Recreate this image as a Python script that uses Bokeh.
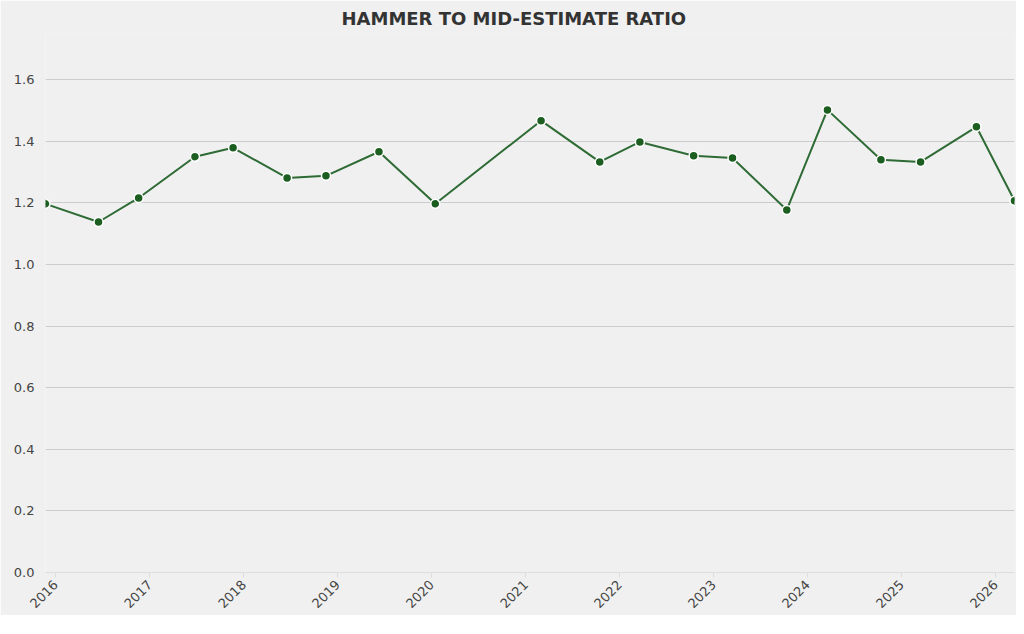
import pandas as pd
from bokeh.plotting import figure
from bokeh.models import Range1d, DatetimeTickFormatter, YearsTicker, PrintfTickFormatter
from bokeh.embed import file_html
from bokeh.resources import INLINE

# sale dates and hammer / mid-estimate ratio
dates = ["2015-11-22", "2016-06-15", "2016-11-18", "2017-06-25", "2017-11-20",
         "2018-06-18", "2018-11-16", "2019-06-10", "2020-01-15", "2021-03-01",
         "2021-10-15", "2022-03-20", "2022-10-15", "2023-03-15", "2023-10-12",
         "2024-03-18", "2024-10-12", "2025-03-15", "2025-10-18", "2026-03-15"]
ratios = [1.197, 1.138, 1.216, 1.350, 1.379, 1.281, 1.288, 1.366, 1.197, 1.467,
          1.333, 1.398, 1.353, 1.346, 1.177, 1.502, 1.340, 1.333, 1.447, 1.207]

x = pd.to_datetime(dates)

p = figure(width=1016, height=615, x_axis_type="datetime",
           output_backend="svg", toolbar_location=None,
           title="HAMMER TO MID-ESTIMATE RATIO",
           x_range=Range1d(x[0], x[-1]), y_range=Range1d(0, 1.75),
           background_fill_color="#f0f0f0", border_fill_color="#f0f0f0",
           min_border_right=2, min_border_left=45, min_border_top=0,
           outline_line_color=None)

p.title.align = "left"
p.title.offset = 296
p.title.text_font = "DejaVu Sans"
p.title.text_font_size = "18px"
p.title.text_color = "#333333"
p.title.text_font_style = "bold"
p.title.standoff = 10

p.line(x, ratios, line_color="#2e6b35", line_width=2)
p.scatter(x, ratios, size=9, fill_color="#1b5e20", line_color="white", line_width=1.5)

p.xgrid.grid_line_color = None
p.ygrid.grid_line_color = "#cccccc"
p.yaxis.ticker = [0.0, 0.2, 0.4, 0.6, 0.8, 1.0, 1.2, 1.4, 1.6]
p.yaxis.formatter = PrintfTickFormatter(format="%.1f")
p.yaxis.axis_line_color = None
p.yaxis.major_tick_line_color = None
p.yaxis.minor_tick_line_color = None

p.xaxis.ticker = YearsTicker(desired_num_ticks=11)
p.xaxis.formatter = DatetimeTickFormatter(years="%Y", months="%Y", days="%Y")
p.xaxis.major_label_orientation = 0.785
p.xaxis.axis_line_color = "#dddddd"
p.xaxis.major_tick_line_color = "#dddddd"
p.xaxis.major_tick_in = 0
p.xaxis.major_tick_out = 5
p.xaxis.minor_tick_line_color = None

for ax in (p.xaxis, p.yaxis):
    ax.major_label_text_font = "DejaVu Sans"
    ax.major_label_text_font_size = "13px"
    ax.major_label_text_color = "#444444"

open("out.html", "w").write(file_html(p, INLINE))
